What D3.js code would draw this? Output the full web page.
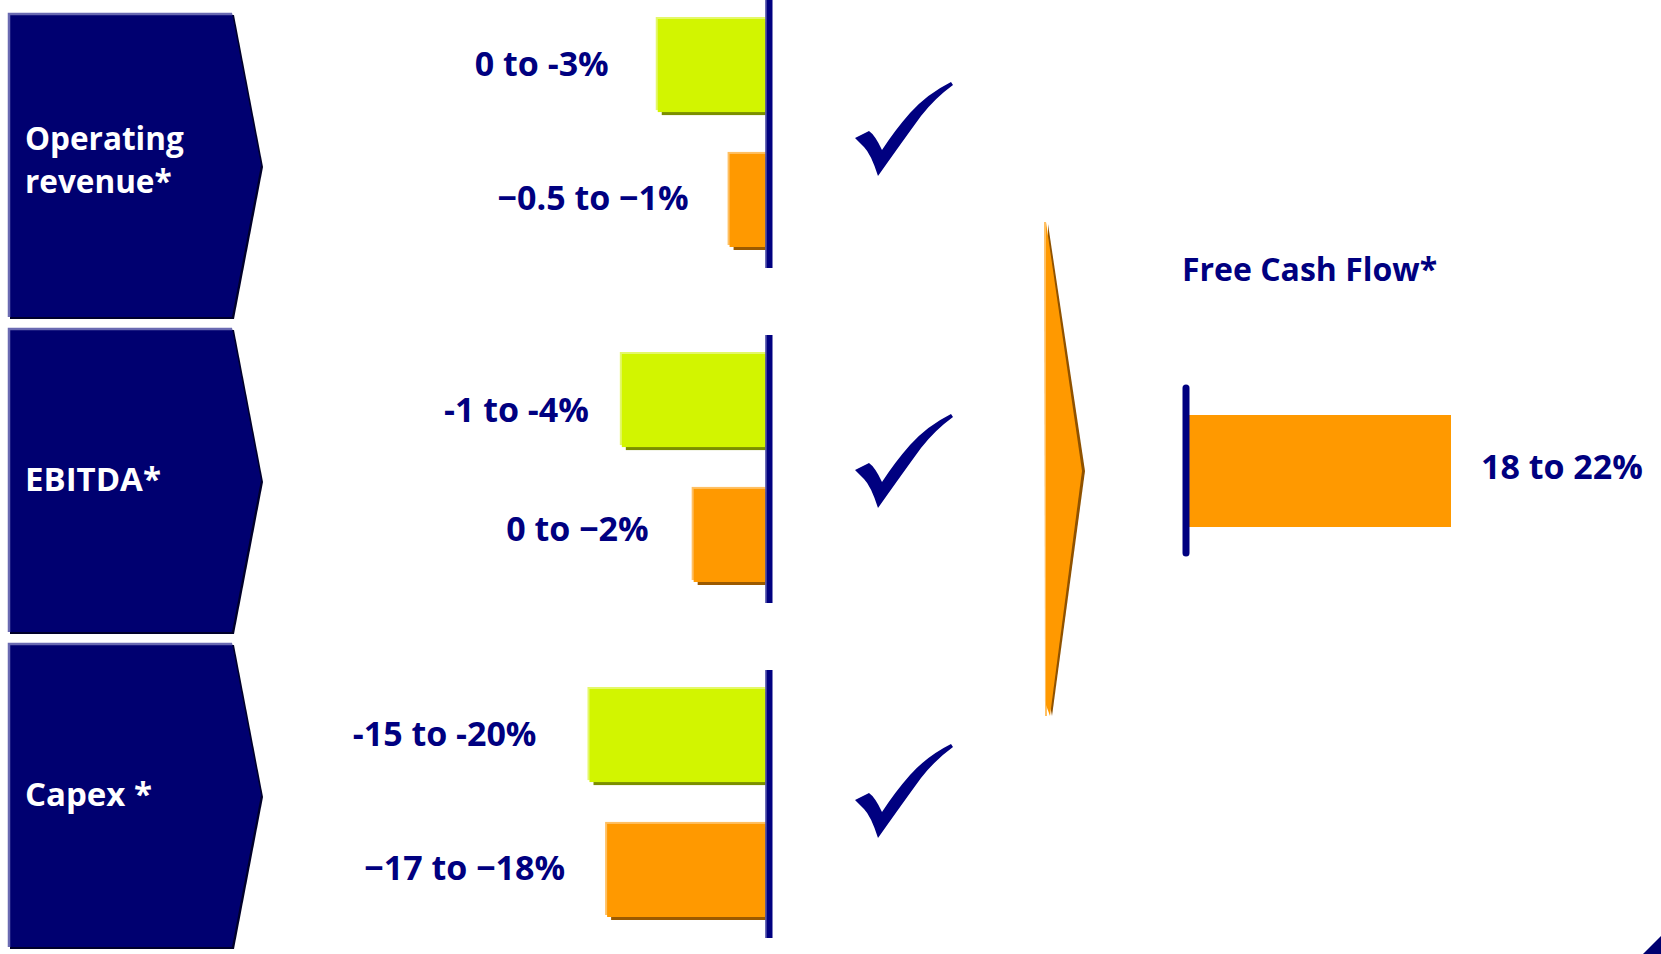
<!DOCTYPE html>
<html>
<head>
<meta charset="utf-8">
<script src="https://cdn.jsdelivr.net/npm/d3@7"></script>
<style>
  html, body { margin: 0; padding: 0; background: #ffffff; }
  svg { display: block; }
  text { font-family: "Open Sans", "DejaVu Sans", sans-serif; font-weight: 700; }
</style>
</head>
<body>
<svg id="chart" width="1661" height="954"></svg>
<script>
// ---------------- data ----------------
const categories = ["Operating revenue*", "EBITDA*", "Capex *"];
const categoryLines = [["Operating", "revenue*"], ["EBITDA*"], ["Capex *"]];
const seriesKeys = ["green", "orange"];
const greenValues = [3, 4, 20];          // magnitude of lower bound of range (%)
const orangeValues = [1, 2, 18];
const greenLabels = ["0 to -3%", "-1 to -4%", "-15 to -20%"];
const orangeLabels = ["\u22120.5 to \u22121%", "0 to \u22122%", "\u221217 to \u221218%"];
const groupScaleMax = [4.9, 4.9, 20];    // each panel uses its own scale
const fcfTitle = "Free Cash Flow*";
const fcfValue = 22;
const fcfLabel = "18 to 22%";

// ---------------- styles ----------------
const NAVY = "#000070";
const TEXT_NAVY = "#000080";
const GREEN = "#d2f500", GREEN_HI = "#e4f86a", GREEN_SH = "#7b8e00";
const ORANGE = "#ff9900", ORANGE_HI = "#ffc063", ORANGE_SH = "#9c5a00";
// label placement tweaks [gap from bar start, baseline offset from bar centre]
const labelStyle = {
  green:  [[49, 10], [33, 21], [53, 10]],
  orange: [[41, 10], [45, 6], [42, 10]]
};
const checkOffset = [4, 1, -4];

const svg = d3.select("#chart");

// panel band scale (left chevrons)
const yPanel = d3.scaleBand().domain(categories).range([13, 947]).paddingInner(0.035);
// bar-group band scale
const yGroup = d3.scaleBand().domain(categories).range([0, 938]).paddingInner(0.2);
// series band within a group
const ySeries = d3.scaleBand().domain(seriesKeys).range([19, 247]).paddingInner(0.31);

const axisX = 769, axisW = 7, barRight = axisX - axisW / 2;
const barSpan = 176;
const xScales = groupScaleMax.map(m => d3.scaleLinear().domain([0, m]).range([barRight, barRight - barSpan]));

// ---------- left chevron panels ----------
const panelG = svg.append("g");
categories.forEach((c, i) => {
  const y0 = yPanel(c), h = yPanel.bandwidth(), y1 = y0 + h, ym = y0 + h / 2;
  const x0 = 8, xr = 232, xp = 261;
  const pts = [[x0, y0], [xr, y0], [xp, ym], [xr, y1], [x0, y1]];
  panelG.append("polygon")
    .attr("points", pts.map(p => [p[0] + 2, p[1] + 2].join(",")).join(" "))
    .attr("fill", "#00002a");
  panelG.append("polygon")
    .attr("points", pts.map(p => p.join(",")).join(" "))
    .attr("fill", NAVY);
  panelG.append("path")
    .attr("d", `M${x0 + 1},${y1} L${x0 + 1},${y0 + 1} L${xr},${y0 + 1}`)
    .attr("fill", "none").attr("stroke", "#6a6ab2").attr("stroke-width", 2.5);
  const lines = categoryLines[i];
  const base = lines.length > 1 ? 7 : 11;
  lines.forEach((ln, k) => {
    panelG.append("text")
      .attr("fill", "#ffffff").attr("font-size", lines.length > 1 ? 31.5 : 33)
      .attr("x", 25)
      .attr("y", ym + base + (k - (lines.length - 1) / 2) * 43)
      .text(ln);
  });
});

// ---------- bar groups ----------
const barsG = svg.append("g");
const seriesData = [
  { key: "green", values: greenValues, labels: greenLabels, fill: GREEN, hi: GREEN_HI, sh: GREEN_SH },
  { key: "orange", values: orangeValues, labels: orangeLabels, fill: ORANGE, hi: ORANGE_HI, sh: ORANGE_SH }
];

categories.forEach((c, i) => {
  const gy = yGroup(c);
  const x = xScales[i];
  seriesData.forEach(s => {
    const v = s.values[i];
    const y = gy + ySeries(s.key), h = ySeries.bandwidth();
    const xl = x(v), w = x(0) - x(v);
    const [gap, dy] = labelStyle[s.key][i];
    barsG.append("rect").attr("x", xl + 4).attr("y", y + 3).attr("width", w - 4).attr("height", h).attr("fill", s.sh);
    barsG.append("rect").attr("x", xl - 2).attr("y", y - 2).attr("width", w + 2).attr("height", h).attr("fill", s.hi);
    barsG.append("rect").attr("x", xl).attr("y", y).attr("width", w).attr("height", h).attr("fill", s.fill);
    barsG.append("text")
      .attr("x", xl - gap).attr("y", y + h / 2 + dy)
      .attr("text-anchor", "end").attr("font-size", 34).attr("fill", TEXT_NAVY)
      .text(s.labels[i]);
  });
  // axis (zero line)
  barsG.append("rect").attr("x", axisX - axisW / 2).attr("y", gy).attr("width", axisW)
    .attr("height", yGroup.bandwidth()).attr("fill", TEXT_NAVY);
  barsG.append("rect").attr("x", axisX - axisW / 2).attr("y", gy).attr("width", 1.2)
    .attr("height", yGroup.bandwidth()).attr("fill", "#5a5ab0");

  // check mark
  const cy = gy + yGroup.bandwidth() / 2 + checkOffset[i];
  barsG.append("path")
    .attr("transform", `translate(855,${cy})`)
    .attr("d", "M0,0 L14,-7 Q20,-3 27,12 Q40,-8 55,-25 Q72,-44 96,-56 L98,-53 Q80,-40 66,-22 Q47,4 23,38 Q16,16 9,9 Q4,4 0,0 Z")
    .attr("fill", TEXT_NAVY);
});

// ---------- big arrow ----------
const arrowG = svg.append("g");
arrowG.append("polygon").attr("points", "1048,224 1085,471 1052,716 1049,700").attr("fill", "#8f5200");
arrowG.append("polygon").attr("points", "1044,222 1045,716 1047,716 1046,222").attr("fill", ORANGE_HI);
arrowG.append("polygon").attr("points", "1046,222 1082,471 1050,716 1046,705").attr("fill", ORANGE);

// ---------- Free cash flow ----------
const fcfG = svg.append("g");
const fcfAxisX = 1186;
const xF = d3.scaleLinear().domain([0, fcfValue]).range([fcfAxisX + 3, 1451]);
const fcfY = d3.scaleBand().domain([fcfTitle]).range([415, 527]);
fcfG.append("rect").attr("x", xF(0)).attr("y", fcfY(fcfTitle))
  .attr("width", xF(fcfValue) - xF(0)).attr("height", fcfY.bandwidth()).attr("fill", ORANGE);
fcfG.append("line").attr("x1", fcfAxisX).attr("x2", fcfAxisX).attr("y1", 388).attr("y2", 553)
  .attr("stroke", TEXT_NAVY).attr("stroke-width", 7).attr("stroke-linecap", "round");
fcfG.append("text").attr("x", 1182).attr("y", 281).attr("font-size", 32).attr("fill", TEXT_NAVY)
  .text(fcfTitle);
fcfG.append("text").attr("x", xF(fcfValue) + 30).attr("y", fcfY(fcfTitle) + fcfY.bandwidth() / 2 + 8)
  .attr("font-size", 34).attr("fill", TEXT_NAVY).text(fcfLabel);

// corner mark
svg.append("polygon").attr("points", "1643,954 1661,936 1661,954").attr("fill", NAVY);
</script>
</body>
</html>
